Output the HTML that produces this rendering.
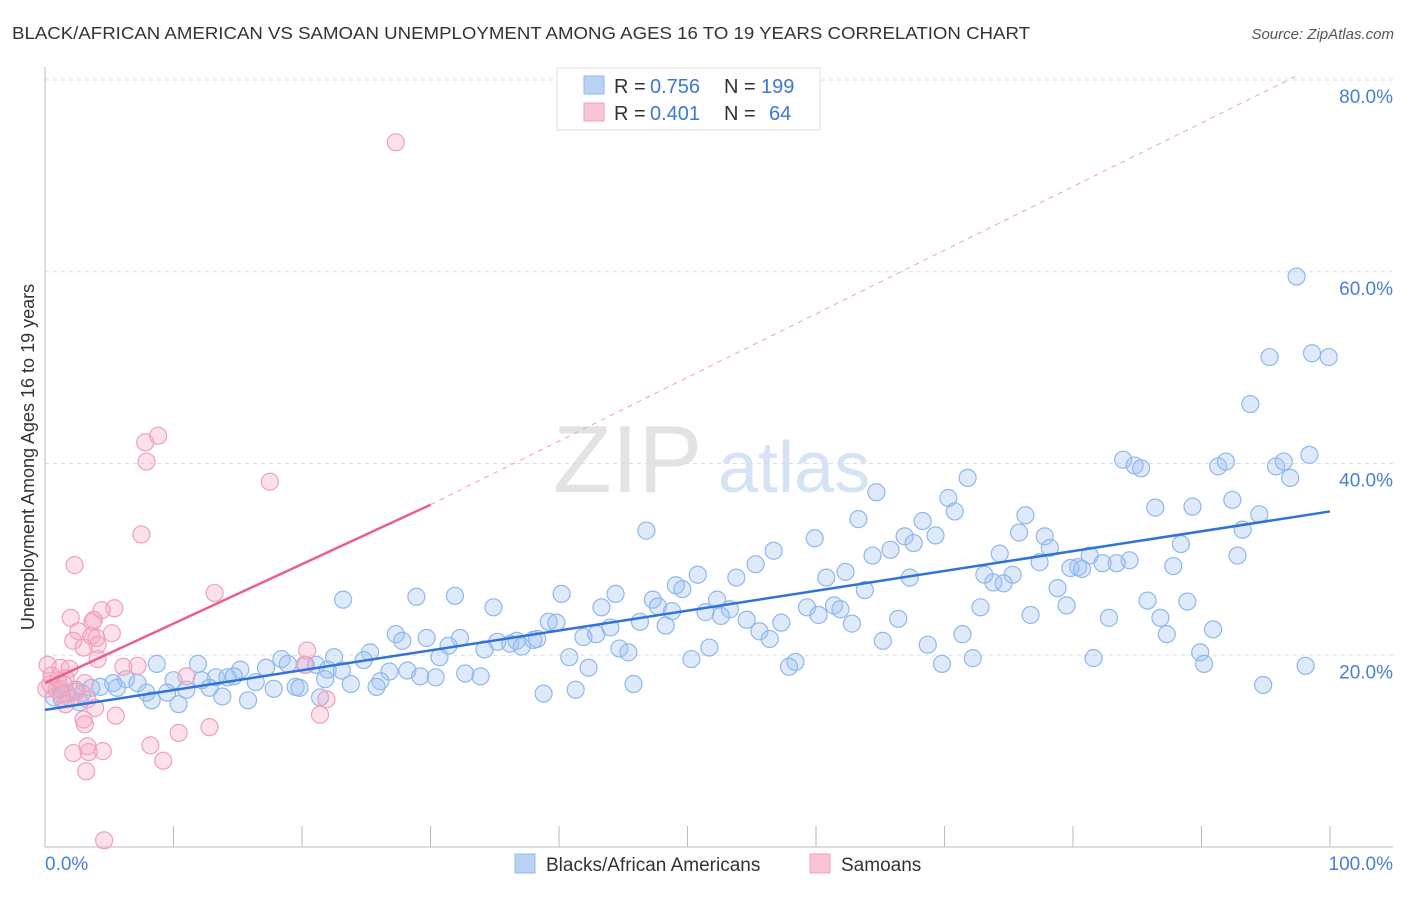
<!DOCTYPE html>
<html><head><meta charset="utf-8">
<style>
body{margin:0;background:#fff;font-family:"Liberation Sans",sans-serif;}
svg text{font-family:"Liberation Sans",sans-serif;}
</style></head>
<body>
<svg id="chart" width="1406" height="892" xmlns="http://www.w3.org/2000/svg">
<text x="12" y="39" font-size="17.5" fill="#333" textLength="1018" lengthAdjust="spacingAndGlyphs">BLACK/AFRICAN AMERICAN VS SAMOAN UNEMPLOYMENT AMONG AGES 16 TO 19 YEARS CORRELATION CHART</text>
<text x="1394" y="39" font-size="15" fill="#555" font-style="italic" text-anchor="end">Source: ZipAtlas.com</text>
<g>
<text x="553" y="492" font-size="96" fill="#e3e3e3" font-family="Liberation Serif,serif">ZIP</text>
<text x="718" y="492" font-size="72" fill="#d5e3f5">atlas</text>
</g>
<g id="grid"></g>
<g id="axes"></g>
<g id="pts"></g>
<g id="lines"></g>
<text transform="translate(34,457) rotate(-90)" font-size="18" fill="#333" text-anchor="middle">Unemployment Among Ages 16 to 19 years</text>
<g>
<rect x="557" y="68" width="263" height="62" fill="#fff" stroke="#ddd"/>
<rect x="584" y="76" width="20" height="18" fill="#b9d3f5" stroke="#8fb8ec"/>
<text x="614" y="93" font-size="20" fill="#333">R =</text>
<text x="650" y="93" font-size="20" fill="#3b78d8">0.756</text>
<text x="724" y="93" font-size="20" fill="#333">N =</text>
<text x="761" y="93" font-size="20" fill="#3b78d8">199</text>
<rect x="584" y="103" width="20" height="18" fill="#f9c4d4" stroke="#f0a0bc"/>
<text x="614" y="120" font-size="20" fill="#333">R =</text>
<text x="650" y="120" font-size="20" fill="#3b78d8">0.401</text>
<text x="724" y="120" font-size="20" fill="#333">N =</text>
<text x="769" y="120" font-size="20" fill="#3b78d8">64</text>
</g>
<g>
<rect x="515" y="854" width="20" height="19" fill="#b9d3f5" stroke="#8fb8ec"/>
<text x="546" y="871" font-size="19" fill="#333">Blacks/African Americans</text>
<rect x="810" y="854" width="20" height="19" fill="#f9c4d4" stroke="#f0a0bc"/>
<text x="841" y="871" font-size="19" fill="#333">Samoans</text>
</g>
</svg>
<script>
const yTicks=[20,40,60,80];
const yTickLabels=["20.0%","40.0%","60.0%","80.0%"];
const xTicks=[0,10,20,30,40,50,60,70,80,90,100];
const blueX=[97.4,95.3,98.6,99.9,93.8,98.4,95.8,96.4,96.9,91.3,91.9,83.9,84.8,85.3,71.8,64.7,70.3,70.8,92.4,89.3,86.4,94.5,93.2,76.3,68.3,63.3,46.8,75.8,77.8,78.2,69.3,66.9,67.6,59.9,88.4,92.8,56.7,65.8,64.4,74.3,81.3,84.4,83.4,82.3,80.4,79.8,80.7,77.4,87.8,55.3,75.3,73.1,73.8,74.6,67.3,62.3,60.8,53.8,50.8,49.6,49.1,63.8,78.8,23.2,28.9,31.9,40.2,44.4,47.3,85.8,88.9,52.3,34.9,43.3,47.7,48.8,61.4,59.3,61.9,79.5,72.8,53.3,51.4,52.6,54.6,60.2,76.7,66.4,82.8,86.8,39.2,39.8,46.3,48.3,57.3,62.8,55.6,41.9,42.9,44.0,90.9,87.3,71.4,27.3,27.8,29.7,32.3,35.2,36.2,36.7,37.1,38.0,38.3,31.4,34.2,65.2,68.7,56.4,44.7,45.4,51.7,40.8,30.7,25.3,22.5,81.6,89.9,90.2,72.2,69.8,58.4,57.9,50.3,98.1,18.4,18.9,20.3,21.1,24.8,11.9,8.7,15.2,17.2,22.0,23.1,26.8,28.2,29.2,30.4,32.7,33.9,42.3,13.3,14.2,14.7,16.4,12.2,10.0,6.3,7.2,5.3,4.3,3.6,2.4,1.2,0.7,19.5,17.8,19.8,21.8,23.8,26.1,25.8,45.8,94.8,12.8,11.0,9.5,7.9,5.6,1.7,2.9,1.3,38.8,41.3,21.4,15.8,13.8,10.4,8.3,2.7];
const blueY=[59.5,51.1,51.5,51.1,46.2,40.9,39.7,40.2,38.5,39.7,40.2,40.4,39.8,39.5,38.5,37.0,36.4,35.0,36.2,35.5,35.4,34.7,33.1,34.6,34.0,34.2,33.0,32.8,32.4,31.2,32.5,32.4,31.7,32.2,31.6,30.4,30.9,31.0,30.4,30.6,30.4,29.9,29.6,29.6,29.2,29.1,29.0,29.7,29.3,29.5,28.4,28.4,27.6,27.5,28.1,28.7,28.1,28.1,28.4,26.9,27.3,26.8,27.0,25.8,26.1,26.2,26.4,26.4,25.8,25.7,25.6,25.8,25.0,25.0,25.1,24.6,25.2,25.0,24.8,25.2,25.0,24.8,24.5,24.1,23.7,24.2,24.2,23.8,23.9,23.9,23.5,23.4,23.5,23.1,23.4,23.3,22.5,21.9,22.2,22.9,22.7,22.2,22.2,22.2,21.5,21.8,21.8,21.4,21.2,21.5,20.9,21.6,21.7,21.0,20.6,21.5,21.1,21.7,20.7,20.3,20.8,19.8,19.8,20.3,19.8,19.7,20.3,19.1,19.7,19.1,19.3,18.8,19.6,18.9,19.6,19.1,19.0,19.0,19.5,19.1,19.1,18.5,18.7,18.5,18.4,18.3,18.4,17.8,17.7,18.1,17.8,18.7,17.7,17.7,17.8,17.2,17.4,17.4,17.5,17.1,17.1,16.7,16.6,16.4,16.5,15.6,16.7,16.5,16.6,17.5,17.0,17.3,16.7,17.0,16.9,16.6,16.4,16.1,16.1,16.6,16.0,16.0,15.5,16.0,16.4,15.6,15.3,15.7,14.9,15.3,15.1];
const pinkX=[27.3,8.8,7.8,7.9,17.5,7.5,2.3,13.2,5.4,4.4,2.0,3.7,3.8,2.6,5.2,3.6,4.0,2.2,4.1,3.0,20.4,4.1,0.2,20.2,7.2,6.1,1.2,1.9,11.0,0.5,1.6,1.0,3.1,0.4,1.5,0.1,0.9,2.4,1.3,2.0,3.3,1.6,3.9,21.9,3.0,5.5,21.4,3.1,12.8,10.4,8.2,3.3,2.2,3.4,4.5,9.2,3.2,4.6];
const pinkY=[73.5,42.9,42.2,40.2,38.1,32.6,29.4,26.5,24.9,24.7,23.9,23.5,23.7,22.5,22.3,22.0,21.8,21.5,21.1,20.8,20.5,19.6,19.0,19.0,18.9,18.8,18.7,18.6,17.8,17.9,17.6,17.4,17.1,17.0,16.9,16.5,16.4,16.2,15.9,15.5,15.4,14.9,14.5,15.4,13.3,13.7,13.8,12.8,12.5,11.9,10.6,10.5,9.8,9.9,10.0,9.0,7.9,0.7];
const blueLine=[[0,14.3],[100,35.0]];
const pinkLine=[[0,17.1],[30,35.7]];
const pinkDash=[[30,35.7],[97.5,80.5]];

const NS="http://www.w3.org/2000/svg";
const X=v=>45+v*12.85;
const Y=v=>847-v*9.5875;
function mk(tag,attrs,parent){const e=document.createElementNS(NS,tag);for(const k in attrs)e.setAttribute(k,attrs[k]);document.getElementById(parent).appendChild(e);return e;}

yTicks.forEach((t,i)=>{
  const l=mk('line',{x1:45,x2:1393,y1:Y(t),y2:Y(t),stroke:'#ddd','stroke-dasharray':'4,4'},'grid');
  
  
  const tx=mk('text',{x:1393,y:Y(t)+23,'font-size':19,fill:'#4a7fd4','text-anchor':'end'},'grid');
  tx.textContent=yTickLabels[i];
  
  
});
const topGrid=mk('line',{x1:45,x2:1393,y1:78,y2:78,stroke:'#eee','stroke-dasharray':'4,4'},'grid');


const ya=mk('line',{x1:45,x2:45,y1:67,y2:847,stroke:'#bbb'},'axes');


const xa=mk('line',{x1:45,x2:1393,y1:847,y2:847,stroke:'#bbb'},'axes');


xTicks.forEach(t=>{
  const l=mk('line',{x1:X(t),x2:X(t),y1:826,y2:847,stroke:'#bbb'},'axes');
  
  
});
const xl0=mk('text',{x:45,y:870,'font-size':19,fill:'#4a7fd4'},'axes');xl0.textContent='0.0%';


const xl1=mk('text',{x:1393,y:870,'font-size':19,fill:'#4a7fd4','text-anchor':'end'},'axes');xl1.textContent='100.0%';



blueX.forEach((v,i)=>{
  const c=mk('circle',{cx:X(v),cy:Y(blueY[i]),r:8.5,fill:'rgba(160,195,240,0.35)',stroke:'#8fb8ec','stroke-width':1.2},'pts');
  
  
});
pinkX.forEach((v,i)=>{
  const c=mk('circle',{cx:X(v),cy:Y(pinkY[i]),r:8.5,fill:'rgba(245,170,195,0.35)',stroke:'#f0a0bc','stroke-width':1.2},'pts');
  
  
});
const bl=mk('line',{x1:X(blueLine[0][0]),y1:Y(blueLine[0][1]),x2:X(blueLine[1][0]),y2:Y(blueLine[1][1]),stroke:'#2f72d8','stroke-width':2.5},'lines');


const pl=mk('line',{x1:X(pinkLine[0][0]),y1:Y(pinkLine[0][1]),x2:X(pinkLine[1][0]),y2:Y(pinkLine[1][1]),stroke:'#e8608e','stroke-width':2.5},'lines');


const pd=mk('line',{x1:X(pinkDash[0][0]),y1:Y(pinkDash[0][1]),x2:X(pinkDash[1][0]),y2:Y(pinkDash[1][1]),stroke:'#f0a0bc','stroke-width':1,'stroke-dasharray':'5,5'},'lines');


</script>
</body></html>
